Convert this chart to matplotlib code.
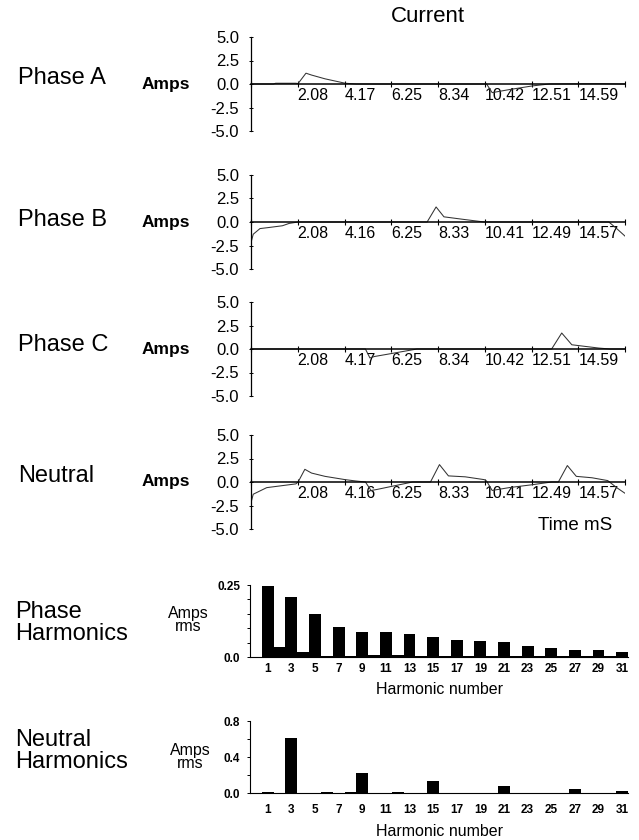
import numpy as np
import matplotlib
matplotlib.use("Agg")
import matplotlib.pyplot as plt

plt.rcParams['font.family'] = ['Liberation Sans', 'DejaVu Sans']

# one mains cycle, ms
period = 16.67
tick_step = period / 8

labels_ac = ['2.08', '4.17', '6.25', '8.34', '10.42', '12.51', '14.59']
labels_bn = ['2.08', '4.16', '6.25', '8.33', '10.41', '12.49', '14.57']

# current waveforms (time ms, amps)
t_a = [0, 1.0, 1.1, 2.0, 2.1, 2.45, 2.7, 3.3, 4.2, 4.7, 10.5, 10.75, 11.5, 12.55, 13.3, 15.5, 16.67]
i_a = [0, 0, 0.08, 0.08, 0.05, 1.15, 0.95, 0.55, 0.08, 0, 0, -0.92, -0.6, -0.2, 0, 0.03, 0]

t_b = [0, 0.1, 0.4, 0.75, 1.4, 1.7, 2.1, 7.85, 8.25, 8.6, 9.4, 10.4, 15.95, 16.3, 16.67]
i_b = [-2.2, -1.3, -0.7, -0.6, -0.4, -0.15, 0, 0, 1.6, 0.55, 0.3, 0, 0, -0.7, -1.5]

t_c = [0, 5.1, 5.3, 5.5, 6.1, 7.4, 13.4, 13.85, 14.3, 15.5, 16.0, 16.67]
i_c = [0, 0, -0.95, -0.8, -0.55, 0, 0, 1.7, 0.45, 0.1, 0, 0]

t_n = [0, 0.1, 0.7, 2.0, 2.1, 2.4, 2.7, 3.3, 4.2, 4.7, 5.1, 5.35, 5.6, 6.2, 7.2, 8.0, 8.4,
       8.8, 9.55, 10.4, 10.5, 10.75, 11.5, 12.5, 13.4, 13.7, 14.1, 14.5, 15.2, 15.9, 16.3, 16.67]
i_n = [-2.2, -1.3, -0.6, -0.2, 0, 1.35, 0.95, 0.6, 0.25, 0.1, 0, -0.9, -0.8, -0.5, 0, 0, 1.85,
       0.65, 0.55, 0.25, 0.1, -0.9, -0.6, -0.3, 0, 0, 1.75, 0.6, 0.45, 0.15, -0.6, -1.2]

harmonics = np.arange(1, 32)
phase_harm = [0.245, 0.035, 0.208, 0.017, 0.149, 0.003, 0.104, 0.002, 0.087, 0.006, 0.088,
              0.006, 0.081, 0.002, 0.069, 0.002, 0.060, 0.002, 0.057, 0.002, 0.051, 0.002,
              0.038, 0.002, 0.030, 0.002, 0.026, 0.002, 0.026, 0.002, 0.019]
neutral_harm = [0.006, 0, 0.61, 0, 0, 0.01, 0, 0.006, 0.225, 0, 0, 0.006, 0, 0, 0.13, 0,
                0, 0, 0, 0, 0.08, 0, 0, 0.005, 0, 0, 0.04, 0, 0.004, 0.004, 0.02]

W, H = 639, 840
fig = plt.figure(figsize=(W / 100, H / 100), dpi=100)


def px(x, y):
    return x / W, 1 - y / H


def wave_panel(bottom_px, t, i, labels):
    ax = fig.add_axes([251 / W, 1 - bottom_px / H, 374 / W, 94 / H])
    ax.plot(t, i, color='#333333', lw=0.75)
    ax.set_xlim(0, period)
    ax.set_ylim(-5, 5)
    for s in ['top', 'right']:
        ax.spines[s].set_visible(False)
    ax.spines['bottom'].set_position(('data', 0))
    ax.spines['bottom'].set_linewidth(1.1)
    ax.spines['left'].set_linewidth(0.9)
    ax.set_xticks([tick_step * k for k in range(9)])
    ax.set_xticklabels([''] + labels + [''], fontsize=11.5)
    for lab in ax.get_xticklabels():
        lab.set_horizontalalignment('left')
    ax.tick_params(axis='x', direction='inout', length=4, width=0.8, pad=1)
    ax.set_yticks([5, 2.5, 0, -2.5, -5])
    ax.set_yticklabels(['5.0', '2.5', '0.0', '-2.5', '-5.0'], fontsize=12)
    ax.tick_params(axis='y', direction='inout', length=3, width=0.7, pad=7)
    return ax


wave_panel(131, t_a, i_a, labels_ac)
wave_panel(269, t_b, i_b, labels_bn)
wave_panel(396, t_c, i_c, labels_ac)
wave_panel(529, t_n, i_n, labels_bn)


def harm_panel(bottom_px, vals, ymax, yticks, ylabels, minor, tickpad, labelpad):
    ax = fig.add_axes([250 / W, 1 - bottom_px / H, 378 / W, 72 / H])
    ax.bar(harmonics, vals, width=1.0, color='black')
    ax.set_xlim(-0.5, 31.5)
    ax.set_ylim(0, ymax)
    for s in ['top', 'right']:
        ax.spines[s].set_visible(False)
    ax.set_xticks(harmonics[::2])
    ax.set_xticklabels([str(h) for h in harmonics[::2]], fontsize=8.5, fontweight='bold')
    ax.tick_params(axis='x', length=0, pad=tickpad)
    ax.set_yticks(yticks)
    ax.set_yticklabels(ylabels, fontsize=8.5, fontweight='bold')
    ax.set_yticks(minor, minor=True)
    ax.tick_params(axis='y', which='both', direction='out', length=2, width=0.7, pad=5)
    ax.set_xlabel('Harmonic number', fontsize=11.5, labelpad=labelpad)
    return ax


harm_panel(657, phase_harm, 0.25, [0, 0.25], ['0.0', '0.25'], [0.05, 0.1, 0.15, 0.2], 4, 5)
harm_panel(793, neutral_harm, 0.8, [0, 0.4, 0.8], ['0.0', '0.4', '0.8'], [0.2, 0.6], 8, 6)

# titles and row labels
fig.text(*px(428, 17), 'Current', fontsize=16, ha='center', va='center')
rows = [('Phase A', 78, 84), ('Phase B', 220, 222), ('Phase C', 345, 349), ('Neutral', 476, 482)]
for name, y_name, y_amps in rows:
    fig.text(*px(18, y_name), name, fontsize=17, ha='left', va='center')
    fig.text(*px(142, y_amps), 'Amps', fontsize=12.5, fontweight='bold', ha='left', va='center')
fig.text(*px(612, 525), 'Time mS', fontsize=13.5, ha='right', va='center')

fig.text(*px(15, 623), 'Phase\nHarmonics', fontsize=17, ha='left', va='center', linespacing=0.95)
fig.text(*px(188, 620), 'Amps\nrms', fontsize=11.5, ha='center', va='center', linespacing=0.9)
fig.text(*px(15, 751), 'Neutral\nHarmonics', fontsize=17, ha='left', va='center', linespacing=0.95)
fig.text(*px(190, 757), 'Amps\nrms', fontsize=11.5, ha='center', va='center', linespacing=0.9)

fig.savefig('out.png', dpi=100)
